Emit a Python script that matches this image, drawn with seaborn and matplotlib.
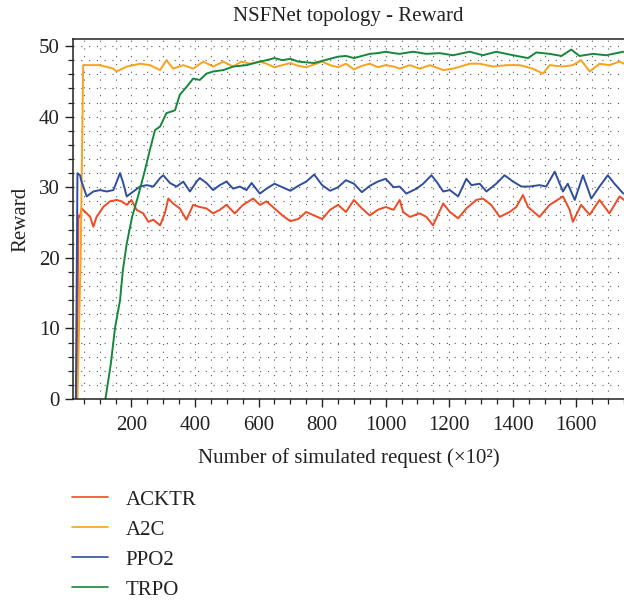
import matplotlib
matplotlib.use("Agg")
import matplotlib.pyplot as plt
from matplotlib.ticker import MultipleLocator
import seaborn as sns
import pandas as pd

# values
acktr_x = [28, 33, 38, 43, 59, 70, 80, 90, 101, 111, 132, 153, 169, 185, 200, 216, 237, 253, 269, 290,
           305, 316, 331, 352, 373, 394, 415, 436, 457, 478, 499, 525, 551, 583, 604, 625, 650, 675, 700, 725,
           750, 775, 800, 825, 850, 875, 900, 925, 950, 975, 1000, 1025, 1044, 1055, 1076, 1107, 1128, 1149, 1181, 1202,
           1228, 1254, 1285, 1306, 1332, 1359, 1390, 1411, 1432, 1448, 1484, 1516, 1558, 1579, 1589, 1615, 1642, 1673, 1704, 1736,
           1750]
acktr_y = [0, 26.0, 25.8, 27.0, 26.3, 25.8, 24.4, 25.8, 26.5, 27.2, 28.0, 28.2, 28.0, 27.5, 28.2, 26.8, 26.3, 25.1, 25.4, 24.6,
           26.3, 28.4, 27.7, 27.0, 25.4, 27.5, 27.2, 27.0, 26.3, 26.8, 27.5, 26.3, 27.5, 28.4, 27.5, 28.0, 27.0, 26.0, 25.2, 25.5,
           26.5, 26.0, 25.5, 26.8, 27.5, 26.5, 28.2, 27.0, 26.0, 26.8, 27.2, 26.8, 28.2, 26.5, 25.8, 26.3, 25.8, 24.6, 27.7, 26.5,
           25.6, 27.0, 28.2, 28.4, 27.5, 25.8, 26.5, 27.2, 28.9, 27.2, 25.8, 27.5, 28.7, 26.8, 25.1, 27.5, 26.1, 28.2, 26.3, 28.7,
           28.2]

a2c_x = [30, 40, 48, 59, 101, 143, 153, 185, 227, 258, 290, 310, 331, 363, 394, 426, 457, 489, 520, 546,
         573, 604, 625, 650, 675, 700, 725, 750, 775, 800, 825, 850, 875, 900, 925, 950, 975, 1000, 1025, 1044,
         1076, 1107, 1139, 1181, 1212, 1264, 1296, 1338, 1380, 1422, 1463, 1495, 1516, 1558, 1589, 1615, 1642, 1673, 1704, 1736,
         1750]
a2c_y = [0, 20.0, 47.3, 47.3, 47.3, 46.8, 46.4, 47.1, 47.5, 47.3, 46.6, 48.0, 46.8, 47.3, 46.8, 47.8, 47.1, 47.8, 47.1, 47.8,
         47.5, 47.8, 47.5, 47.0, 47.3, 47.6, 47.2, 47.0, 47.4, 47.8, 47.3, 47.0, 47.5, 46.7, 47.2, 47.5, 47.0, 47.3, 47.1, 46.8,
         47.3, 46.8, 47.3, 46.6, 46.8, 47.5, 47.5, 47.1, 47.3, 47.3, 46.8, 46.1, 47.3, 47.1, 47.3, 48.0, 46.4, 47.5, 47.3, 47.8,
         47.5]

ppo2_x = [25, 30, 38, 43, 59, 80, 101, 122, 143, 164, 174, 185, 206, 227, 248, 269, 290, 300, 321, 342,
          363, 384, 405, 415, 436, 457, 478, 499, 520, 541, 562, 578, 604, 625, 650, 675, 700, 725, 750, 775,
          800, 825, 850, 875, 900, 925, 950, 975, 1000, 1025, 1044, 1065, 1097, 1118, 1144, 1160, 1181, 1202, 1228, 1254,
          1270, 1296, 1317, 1348, 1374, 1401, 1427, 1453, 1484, 1505, 1532, 1558, 1573, 1595, 1621, 1647, 1673, 1699, 1720, 1748]
ppo2_y = [0, 32.0, 31.7, 30.8, 28.7, 29.4, 29.6, 29.4, 29.6, 32.0, 30.6, 28.7, 29.4, 30.1, 30.3, 30.1, 31.3, 31.7, 30.6, 30.1,
          30.8, 29.4, 30.8, 31.3, 30.6, 29.6, 30.3, 30.8, 29.8, 30.1, 29.6, 30.6, 29.1, 29.8, 30.5, 30.0, 29.5, 30.2, 30.8, 31.8,
          30.3, 29.5, 30.0, 31.0, 30.5, 29.3, 30.2, 30.8, 31.2, 30.0, 30.1, 29.1, 29.8, 30.5, 31.7, 30.8, 29.4, 29.6, 28.7, 31.2,
          30.3, 30.5, 29.4, 30.5, 31.7, 30.8, 30.1, 30.1, 30.3, 30.1, 32.2, 29.4, 30.5, 28.2, 31.7, 28.4, 30.1, 31.7, 30.5, 29.1]

trpo_x = [110, 118, 135, 148, 164, 173, 185, 202, 220, 240, 258, 274, 290, 310, 337, 352, 373, 394, 415, 436,
          457, 489, 520, 562, 604, 625, 650, 675, 700, 725, 750, 775, 800, 825, 850, 875, 900, 925, 950, 975,
          1000, 1025, 1044, 1086, 1128, 1170, 1212, 1264, 1306, 1348, 1401, 1448, 1474, 1516, 1553, 1584, 1610, 1652, 1694, 1748]
trpo_y = [-2, 0, 5, 10, 14, 18.3, 22, 25.8, 28.6, 32, 35.3, 38.1, 38.6, 40.5, 40.9, 43.1, 44.2, 45.4, 45.2, 46.1,
          46.4, 46.6, 47.1, 47.3, 47.8, 48.0, 48.3, 48.0, 48.2, 47.8, 47.7, 47.6, 47.9, 48.2, 48.5, 48.6, 48.3, 48.6, 48.9, 49.0,
          49.2, 49.0, 48.9, 49.2, 48.9, 49.0, 48.7, 49.2, 48.7, 49.2, 48.7, 48.3, 49.1, 48.9, 48.6, 49.5, 48.6, 48.9, 48.7, 49.2]

algos = ["ACKTR", "A2C", "PPO2", "TRPO"]
colors = ["#EE4B24", "#F8A31C", "#2F4E9E", "#16883B"]

parts = []
for name, xs, ys in zip(algos, [acktr_x, a2c_x, ppo2_x, trpo_x], [acktr_y, a2c_y, ppo2_y, trpo_y]):
    parts.append(pd.DataFrame({"req": xs, "reward": ys, "algo": name}))
df = pd.concat(parts, ignore_index=True)

sns.set_style("ticks")
plt.rcParams["font.family"] = ["Liberation Serif", "DejaVu Serif"]

fig = plt.figure(figsize=(6.24, 6.05), dpi=100)
ax = fig.add_axes([0.1165, 0.3405, 0.8835, 0.595])

sns.lineplot(data=df, x="req", y="reward", hue="algo", hue_order=algos,
             palette=colors, linewidth=1.4, ax=ax, legend=False, sort=False)

ax.set_xlim(15, 1750)
ax.set_ylim(0, 51)
ax.xaxis.set_major_locator(MultipleLocator(200))
ax.xaxis.set_minor_locator(MultipleLocator(50))
ax.yaxis.set_major_locator(MultipleLocator(10))
ax.yaxis.set_minor_locator(MultipleLocator(2))
ax.tick_params(which="major", length=6, width=1, labelsize=15, color="#222222", labelcolor="#222222")
ax.tick_params(axis="x", which="major", pad=6)
ax.tick_params(which="minor", length=3.5, width=0.9, color="#222222")
ax.grid(which="both", color="#555555", linestyle=(0, (1, 6)), linewidth=0.8)
ax.set_axisbelow(True)

for s in ["left", "bottom", "top"]:
    ax.spines[s].set_color("#222222")
    ax.spines[s].set_linewidth(1.1)
ax.spines["right"].set_visible(False)

ax.set_title("NSFNet topology - Reward", fontsize=15, color="#222222", pad=13)
ax.set_xlabel("Number of simulated request (×10²)", fontsize=15, color="#222222", labelpad=10)
ax.set_ylabel("Reward", fontsize=15, color="#222222", labelpad=6)

handles = [plt.Line2D([], [], color=c, linewidth=1.2) for c in colors]
fig.legend(handles, algos, loc="upper left", bbox_to_anchor=(0.116, 0.19),
           frameon=False, fontsize=15, handlelength=1.7, handletextpad=0.85,
           labelspacing=0.5, borderpad=0, borderaxespad=0, labelcolor="#222222")

fig.savefig("out.png", dpi=100)
